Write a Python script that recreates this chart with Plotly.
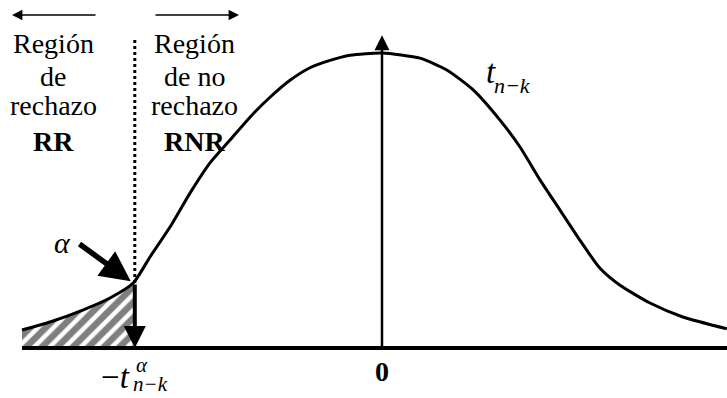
import plotly.graph_objects as go

# ---- data (diagram units: x in t-units, y density) ----
curve_x = [-4.5, -4.15, -3.74, -3.4, -3.11, -2.9, -2.65, -2.4, -2.15, -1.9, -1.65, -1.4,
           -1.15, -0.9, -0.65, -0.4, 0.0, 0.475, 0.81, 1.14, 1.475, 1.725, 1.975, 2.225,
           2.475, 2.725, 2.975, 3.35, 3.76, 4.31]
curve_y = [0.0244, 0.0353, 0.0515, 0.0678, 0.0881, 0.1234, 0.164, 0.210, 0.251, 0.282,
           0.313, 0.340, 0.363, 0.380, 0.390, 0.397, 0.400, 0.393, 0.377, 0.350, 0.309,
           0.2725, 0.228, 0.187, 0.146, 0.108, 0.085, 0.061, 0.042, 0.026]
crit_x = -3.11
crit_y = 0.0881
left_labels = ["Región", "de", "rechazo", "<b>RR</b>"]
right_labels = ["Región", "de no", "rechazo", "<b>RNR</b>"]

X_RANGE = [-4.775, 4.3125]
Y_RANGE = [-0.0678, 0.47186]
FONT = "Liberation Serif, Times New Roman, serif"

fig = go.Figure()

# hatched tail
tail_x = [x for x in curve_x if x <= crit_x]
tail_y = [y for x, y in zip(curve_x, curve_y) if x <= crit_x]
fig.add_trace(go.Scatter(
    x=tail_x + [crit_x, tail_x[0]], y=tail_y + [0, 0],
    fill="toself", mode="none", fillcolor="white",
    fillpattern=dict(shape="/", fgcolor="black", bgcolor="white", size=11, solidity=0.6),
    hoverinfo="skip", showlegend=False))

# curve
fig.add_trace(go.Scatter(x=curve_x, y=curve_y, mode="lines",
                         line=dict(color="black", width=3, shape="spline", smoothing=0.6),
                         hoverinfo="skip", showlegend=False))

# horizontal axis
fig.add_trace(go.Scatter(x=[curve_x[0], X_RANGE[1]], y=[0, 0], mode="lines",
                         line=dict(color="black", width=4), hoverinfo="skip", showlegend=False))

# dotted critical line
fig.add_trace(go.Scatter(x=[crit_x + 0.02, crit_x + 0.02], y=[crit_y, 0.4176], mode="lines",
                         line=dict(color="black", width=3, dash="dot"), hoverinfo="skip", showlegend=False))

ann = []
# vertical axis with arrow
ann.append(dict(x=0, y=0.424, ax=0, ay=0, xref="x", yref="y", axref="x", ayref="y",
                showarrow=True, arrowhead=2, arrowsize=1.2, arrowwidth=2.5, arrowcolor="black", text=""))
# down arrow at critical value
ann.append(dict(x=crit_x + 0.02, y=0.0, ax=crit_x + 0.02, ay=crit_y, xref="x", yref="y", axref="x", ayref="y",
                showarrow=True, arrowhead=2, arrowsize=1.1, arrowwidth=4, arrowcolor="black", text=""))
# alpha arrow
ann.append(dict(x=-3.14, y=0.0905, ax=-3.8, ay=0.1424, xref="x", yref="y", axref="x", ayref="y",
                showarrow=True, arrowhead=2, arrowsize=1.1, arrowwidth=5.5, arrowcolor="black", text=""))
# top arrows
ann.append(dict(x=-4.625, y=0.4515, ax=-3.5625, ay=0.4515, xref="x", yref="y", axref="x", ayref="y",
                showarrow=True, arrowhead=2, arrowsize=1.3, arrowwidth=1.6, arrowcolor="black", text=""))
ann.append(dict(x=-1.7875, y=0.4515, ax=-2.85, ay=0.4515, xref="x", yref="y", axref="x", ayref="y",
                showarrow=True, arrowhead=2, arrowsize=1.3, arrowwidth=1.6, arrowcolor="black", text=""))

row_y = [0.4135, 0.3675, 0.329, 0.2805]
for t, yy in zip(left_labels, row_y):
    ann.append(dict(x=-4.1125, y=yy, text=t, showarrow=False, font=dict(family=FONT, size=28, color="black"),
                    xanchor="center", yanchor="middle"))
for t, yy in zip(right_labels, row_y):
    ann.append(dict(x=-2.35, y=yy, text=t, showarrow=False, font=dict(family=FONT, size=28, color="black"),
                    xanchor="center", yanchor="middle"))

# alpha
ann.append(dict(x=-4.0, y=0.1437, text="<i>α</i>", showarrow=False, font=dict(family=FONT, size=30, color="black")))
# zero
ann.append(dict(x=0.0, y=-0.0312, text="<b>0</b>", showarrow=False, font=dict(family=FONT, size=28, color="black")))
# -t^alpha_{n-k}
ann.append(dict(x=-3.3375, y=-0.0395, text="−<i>t</i>", showarrow=False, font=dict(family=FONT, size=33, color="black")))
ann.append(dict(x=-3.0, y=-0.0225, text="<i>α</i>", showarrow=False, font=dict(family=FONT, size=21, color="black")))
ann.append(dict(x=-2.9, y=-0.0492, text="<i>n−k</i>", showarrow=False, font=dict(family=FONT, size=21, color="black")))
# t_{n-k}
ann.append(dict(x=1.3625, y=0.374, text="<i>t</i>", showarrow=False, font=dict(family=FONT, size=33, color="black")))
ann.append(dict(x=1.625, y=0.3553, text="<i>n−k</i>", showarrow=False, font=dict(family=FONT, size=22, color="black")))

fig.update_layout(
    width=727, height=398, margin=dict(l=0, r=0, t=0, b=0),
    paper_bgcolor="white", plot_bgcolor="white",
    xaxis=dict(range=X_RANGE, visible=False, fixedrange=True),
    yaxis=dict(range=Y_RANGE, visible=False, fixedrange=True),
    annotations=ann, showlegend=False)

fig.write_html("out.html", config={"displayModeBar": False},
               post_script="document.body.style.margin='0';document.body.style.overflow='hidden';")
